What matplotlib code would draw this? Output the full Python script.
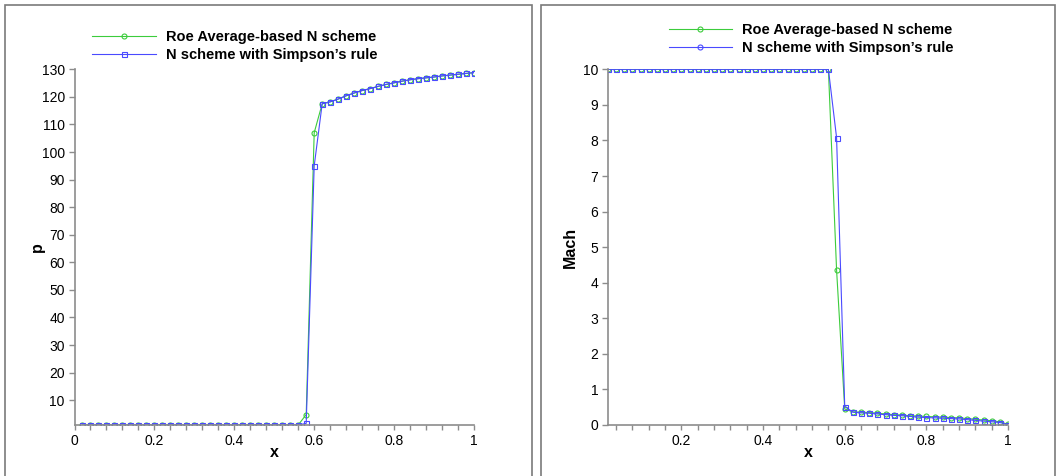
import numpy as np
import matplotlib.pyplot as plt
from matplotlib.lines import Line2D
from matplotlib.patches import Rectangle

plt.rcParams['font.family'] = ['Liberation Sans', 'DejaVu Sans']

# grid points x = 0.02 ... 1.0
x = np.round(np.arange(1, 51) * 0.02, 2)

# pressure, downstream part (x = 0.62 ... 1.0) is the same for both schemes
p_tail = [117.5, 118.2, 119.2, 120.4, 121.4, 122.3, 123.0, 123.8, 124.5, 125.1,
          125.7, 126.2, 126.6, 126.9, 127.2, 127.6, 127.9, 128.2, 128.5, 128.8]
p_roe = [1.0] * 28 + [4.8, 107.0] + p_tail
p_simpson = [1.0] * 28 + [1.6, 95.0] + p_tail

# Mach number
mach_roe = [10.0] * 28 + [4.36, 0.45] + [
    0.37, 0.36, 0.35, 0.33, 0.31, 0.29, 0.28, 0.26, 0.25, 0.24,
    0.23, 0.22, 0.21, 0.20, 0.18, 0.16, 0.14, 0.12, 0.09, 0.02]
mach_simpson = [10.0] * 28 + [8.08, 0.52] + [
    0.36, 0.34, 0.33, 0.31, 0.29, 0.27, 0.26, 0.24, 0.22, 0.21,
    0.20, 0.19, 0.18, 0.17, 0.15, 0.13, 0.11, 0.09, 0.07, 0.01]

labels = ['Roe Average-based N scheme', 'N scheme with Simpson\u2019s rule']
green = '#3ccc3c'
blue = '#4a4aff'
grey = '#8c8c8c'

W, H = 1060, 476
fig = plt.figure(figsize=(W / 100, H / 100), dpi=100)


def px_axes(x0, x1, ytop, ybot):
    return fig.add_axes([x0 / W, 1 - ybot / H, (x1 - x0) / W, (ybot - ytop) / H])


def style(ax):
    for s in ['top', 'right']:
        ax.spines[s].set_visible(False)
    for s in ['left', 'bottom']:
        ax.spines[s].set_color(grey)
        ax.spines[s].set_linewidth(1.2)
    ax.tick_params(which='both', colors=grey, labelcolor='black', labelsize=10,
                   direction='out', width=1)
    ax.tick_params(axis='x', which='both', length=3.5, pad=3)
    ax.tick_params(axis='y', length=4, pad=3)
    ax.set_xticks(np.arange(0.04, 1.001, 0.04), minor=True)


mk = dict(ms=3.6, mfc='none', mew=0.8, lw=0.8)

# left: pressure
ax1 = px_axes(74.5, 474, 69.3, 425)
ax1.plot(x, p_roe, color=green, marker='o', **mk)
ax1.plot(x, p_simpson, color=blue, marker='s', **mk)
ax1.set_xlim(0, 1)
ax1.set_ylim(1, 130)
ax1.set_xticks([0, 0.2, 0.4, 0.6, 0.8, 1])
ax1.set_xticklabels(['0', '0.2', '0.4', '0.6', '0.8', '1'])
ax1.set_yticks(np.arange(10, 131, 10))
style(ax1)
ax1.set_xlabel('x', fontsize=11.5, fontweight='bold')
ax1.xaxis.set_label_coords(0.5, -0.056)
ax1.set_ylabel('p', fontsize=11.5, fontweight='bold')
ax1.yaxis.set_label_coords(-0.074, 0.5)
h1 = [Line2D([], [], color=green, marker='o', **mk),
      Line2D([], [], color=blue, marker='s', **mk)]
ax1.legend(h1, labels, loc='upper left', bbox_to_anchor=(92 / W, 1 - 30 / H),
           bbox_transform=fig.transFigure, frameon=False, borderpad=0,
           borderaxespad=0, handlelength=4.4, handletextpad=0.7,
           labelspacing=0.25, prop={'weight': 'bold', 'size': 10.5})

# right: Mach
ax2 = px_axes(608, 1008, 69.3, 425)
ax2.plot(x, mach_roe, color=green, marker='o', **mk)
ax2.plot(x, mach_simpson, color=blue, marker='s', **mk)
ax2.set_xlim(0.02, 1)
ax2.set_ylim(0, 10)
ax2.set_xticks([0.2, 0.4, 0.6, 0.8, 1])
ax2.set_xticklabels(['0.2', '0.4', '0.6', '0.8', '1'])
ax2.set_yticks(np.arange(0, 11, 1))
style(ax2)
ax2.set_xlabel('x', fontsize=11.5, fontweight='bold')
ax2.xaxis.set_label_coords(0.5, -0.056)
ax2.set_ylabel('Mach', fontsize=11.5, fontweight='bold')
ax2.yaxis.set_label_coords(-0.075, 0.5)
h2 = [Line2D([], [], color=green, marker='o', **mk),
      Line2D([], [], color=blue, marker='o', **mk)]
ax2.legend(h2, labels, loc='upper left', bbox_to_anchor=(669 / W, 1 - 23 / H),
           bbox_transform=fig.transFigure, frameon=False, borderpad=0,
           borderaxespad=0, handlelength=4.3, handletextpad=0.7,
           labelspacing=0.25, prop={'weight': 'bold', 'size': 10.5})

# panel frames
for x0, x1 in [(5, 532), (541, 1055)]:
    fig.patches.append(Rectangle((x0 / W, -0.05), (x1 - x0) / W, 1.05 - 4.5 / H,
                                 transform=fig.transFigure, fill=False,
                                 edgecolor='#7a7a7a', lw=1.2))

fig.savefig('out.png', dpi=100)
